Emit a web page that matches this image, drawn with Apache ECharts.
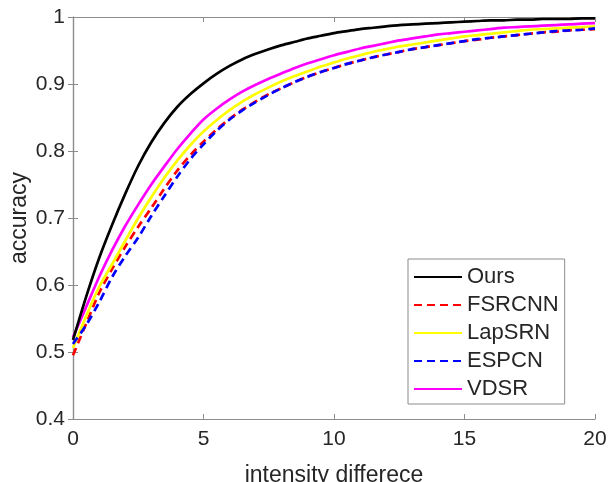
<!DOCTYPE html>
<html>
<head>
<meta charset="utf-8">
<script src="https://cdn.jsdelivr.net/npm/echarts@6/dist/echarts.min.js"></script>
<style>
html,body{margin:0;padding:0;background:#fff;}
#chart{width:611px;height:482px;}
</style>
</head>
<body>
<div id="chart"></div>
<script>
const xs = [0,0.5,1,1.5,2,2.5,3,3.5,4,4.5,5,5.5,6,6.5,7,7.5,8,8.5,9,9.5,10,10.5,11,11.5,12,12.5,13,13.5,14,14.5,15,15.5,16,16.5,17,17.5,18,18.5,19,19.5,20];
const seriesNames = ['Ours','FSRCNN','LapSRN','ESPCN','VDSR'];
const ours = [0.518,0.582,0.640,0.690,0.736,0.778,0.813,0.842,0.866,0.885,0.901,0.915,0.927,0.937,0.945,0.952,0.958,0.963,0.968,0.972,0.976,0.979,0.982,0.984,0.986,0.988,0.989,0.990,0.991,0.992,0.993,0.994,0.995,0.995,0.996,0.996,0.997,0.997,0.997,0.998,0.998];
const fsrcnn = [0.495,0.542,0.588,0.624,0.657,0.687,0.715,0.744,0.771,0.794,0.814,0.832,0.848,0.862,0.874,0.885,0.894,0.903,0.911,0.918,0.924,0.930,0.935,0.940,0.944,0.948,0.952,0.955,0.958,0.961,0.964,0.966,0.969,0.971,0.973,0.975,0.977,0.978,0.980,0.981,0.982];
const lapsrn = [0.506,0.553,0.597,0.631,0.666,0.700,0.731,0.760,0.786,0.809,0.829,0.846,0.861,0.874,0.885,0.895,0.904,0.912,0.919,0.926,0.932,0.938,0.943,0.948,0.952,0.956,0.959,0.962,0.965,0.968,0.971,0.973,0.975,0.977,0.979,0.981,0.982,0.983,0.984,0.985,0.986];
const espcn = [0.512,0.540,0.574,0.612,0.643,0.671,0.703,0.733,0.762,0.788,0.810,0.830,0.847,0.861,0.873,0.884,0.894,0.903,0.911,0.918,0.924,0.930,0.935,0.940,0.944,0.948,0.952,0.955,0.958,0.961,0.964,0.967,0.969,0.971,0.973,0.975,0.977,0.979,0.980,0.981,0.983];
const vdsr = [0.522,0.567,0.612,0.652,0.688,0.720,0.750,0.777,0.803,0.826,0.847,0.863,0.877,0.889,0.899,0.908,0.916,0.924,0.931,0.937,0.943,0.948,0.953,0.957,0.961,0.965,0.968,0.971,0.974,0.976,0.978,0.980,0.982,0.984,0.985,0.986,0.987,0.988,0.989,0.990,0.991];
const xTicks = [0,5,10,15,20];
const yTicks = [0.4,0.5,0.6,0.7,0.8,0.9,1];

const FONT = "'Liberation Sans', Arial, Helvetica, sans-serif";
const AX = '#8c8c8c';
const TXT = '#262626';

function pairs(arr){ return xs.map((x,i)=>[x,arr[i]]); }

const colors = ['#000000','#ff0000','#ffff00','#0000ff','#ff00ff'];
const types = ['solid','dashed','solid','dashed','solid'];
const datas = [ours,fsrcnn,lapsrn,espcn,vdsr];

const chart = echarts.init(document.getElementById('chart'), null, {renderer:'canvas'});
const lineAxis = {lineStyle:{color:AX,width:1.2}};
chart.setOption({
  animation:false,
  backgroundColor:'#fff',
  grid:{left:73,right:16,top:17,bottom:63,containLabel:false,outerBoundsMode:'none'},
  xAxis:[{
    type:'value',min:0,max:20,interval:5,position:'bottom',
    name:'intensity differece',nameLocation:'middle',nameGap:45,nameMoveOverlap:false,
    nameTextStyle:{fontFamily:FONT,fontSize:23,color:TXT},
    axisLine:lineAxis,
    axisTick:{inside:true,length:5,lineStyle:{color:AX}},
    axisLabel:{fontFamily:FONT,fontSize:21,color:TXT,margin:10,
      formatter:v=>xTicks.includes(v)?String(v):''},
    splitLine:{show:false}
  },{
    type:'value',min:0,max:20,interval:5,position:'top',
    axisLine:lineAxis,
    axisTick:{inside:true,length:5,lineStyle:{color:AX}},
    axisLabel:{show:false},splitLine:{show:false}
  }],
  yAxis:[{
    type:'value',min:0.4,max:1,interval:0.1,position:'left',
    name:'accuracy',nameLocation:'middle',nameGap:42,nameRotate:90,nameMoveOverlap:false,
    nameTextStyle:{fontFamily:FONT,fontSize:23,color:TXT},
    axisLine:lineAxis,
    axisTick:{inside:true,length:5,lineStyle:{color:AX}},
    axisLabel:{fontFamily:FONT,fontSize:21,color:TXT,margin:8,
      formatter:v=>{const r=Math.round(v*10)/10; return yTicks.includes(r)?(r===1?'1':r.toFixed(1)):'';}},
    splitLine:{show:false}
  },{
    type:'value',min:0.4,max:1,interval:0.1,position:'right',
    axisLine:lineAxis,
    axisTick:{inside:true,length:5,lineStyle:{color:AX}},
    axisLabel:{show:false},splitLine:{show:false}
  }],
  legend:{
    orient:'vertical',left:408,top:259,
    padding:[7,6,4,5],itemGap:6,itemWidth:48,itemHeight:14,
    backgroundColor:'#fff',borderColor:'#8c8c8c',borderWidth:1,borderRadius:0,
    textStyle:{fontFamily:FONT,fontSize:22,color:TXT},
    itemStyle:{color:'rgba(0,0,0,0)',borderColor:'rgba(0,0,0,0)',borderWidth:0,opacity:0},
    data:seriesNames
  },
  series:seriesNames.map((n,i)=>({
    name:n,type:'line',data:pairs(datas[i]),showSymbol:false,symbol:'none',smooth:0.3,
    xAxisIndex:0,yAxisIndex:0,
    lineStyle:{color:colors[i],width:2.7,type:types[i]==='dashed'?[8,5]:'solid'},
    itemStyle:{color:colors[i]},
    z:i===0?5:2
  }))
});
</script>
</body>
</html>
